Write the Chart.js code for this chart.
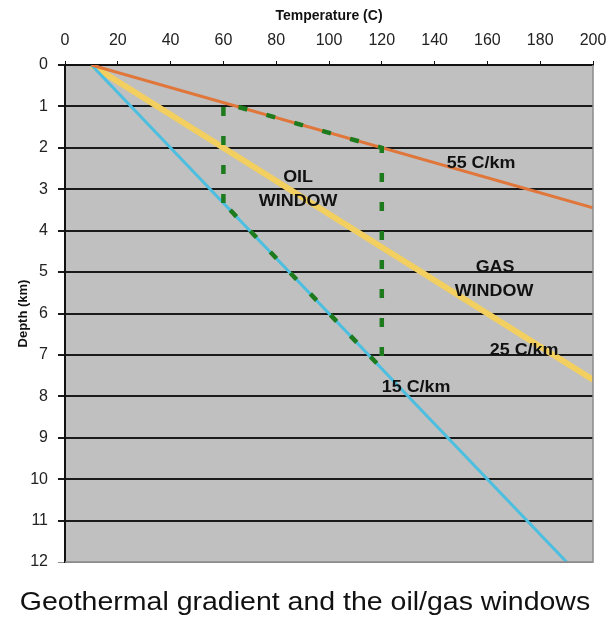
<!DOCTYPE html>
<html>
<head>
<meta charset="utf-8">
<script src="https://cdn.jsdelivr.net/npm/chart.js@4.4.1/dist/chart.umd.min.js"></script>
<style>
  html, body { margin: 0; padding: 0; background: #fff; }
  #wrap { width: 610px; height: 621px; }
</style>
</head>
<body>
<div id="wrap"><canvas id="geoChart"></canvas></div>
<script>
// temperatures (C) and depths (km)
const hotTemps = [10, 200];
const hotDepths = [0, 3.45];
const midTemps = [10, 200];
const midDepths = [0, 7.6];
const coldTemps = [10, 190];
const coldDepths = [0, 12];
// outline of the oil window
const windowTemps = [60, 60, 120, 120, 60];
const windowDepths = [3.33, 0.91, 2.0, 7.33, 3.33];

const xTicks = [0, 20, 40, 60, 80, 100, 120, 140, 160, 180, 200];
const yTicks = [0, 1, 2, 3, 4, 5, 6, 7, 8, 9, 10, 11, 12];

// text placed on the chart (temp, depth)
const noteTexts = ['55 C/km', 'OIL', 'WINDOW', 'GAS', 'WINDOW', '25 C/km', '15 C/km'];
const noteTemps = [157.6, 88.3, 88.3, 162.9, 162.5, 173.9, 133];
const noteDepths = [2.39, 2.73, 3.31, 4.9, 5.46, 6.9, 7.8];

const chartTitle = 'Geothermal gradient and the oil/gas windows';

const toPoints = (xs, ys) => xs.map((x, i) => ({ x: x, y: ys[i] }));

const FONT = 'Arial, "Liberation Sans", sans-serif';

const backdrop = {
    id: 'backdrop',
    beforeDraw(chart) {
        const { ctx, chartArea: a } = chart;
        ctx.save();
        ctx.fillStyle = '#c0c0c0';
        ctx.fillRect(a.left, a.top, a.right - a.left, a.bottom - a.top);
        ctx.restore();
    },
    afterDraw(chart) {
        const { ctx, chartArea: a } = chart;
        ctx.save();
        ctx.strokeStyle = '#8a8a8a';
        ctx.lineWidth = 1.5;
        ctx.beginPath();
        ctx.moveTo(a.right, a.top);
        ctx.lineTo(a.right, a.bottom);
        ctx.lineTo(a.left, a.bottom);
        ctx.stroke();

        // caption under the chart, a little wide like the original
        ctx.fillStyle = '#111';
        ctx.font = '25px ' + FONT;
        ctx.textAlign = 'center';
        ctx.textBaseline = 'middle';
        ctx.translate(chart.width / 2, 603);
        ctx.scale(1.14, 1);
        ctx.fillText(chartTitle, 0, 0);
        ctx.restore();
    }
};

const notes = {
    id: 'notes',
    afterDatasetsDraw(chart) {
        const { ctx, scales } = chart;
        ctx.save();
        ctx.font = 'bold 16px ' + FONT;
        ctx.fillStyle = '#111';
        ctx.textAlign = 'center';
        ctx.textBaseline = 'middle';
        noteTexts.forEach((t, i) => {
            const px = scales.x.getPixelForValue(noteTemps[i]);
            const py = scales.y.getPixelForValue(noteDepths[i]);
            ctx.save();
            ctx.translate(px, py);
            ctx.scale(1.12, 1);
            ctx.fillText(t, 0, 0);
            ctx.restore();
        });
        ctx.restore();
    }
};

const ctx = document.getElementById('geoChart').getContext('2d');

new Chart(ctx, {
    type: 'scatter',
    data: {
        datasets: [
            {
                label: 'Oil window',
                data: toPoints(windowTemps, windowDepths),
                showLine: true,
                borderColor: '#1d7a1d',
                borderWidth: 4.5,
                borderDash: [9, 20],
                pointRadius: 0,
                order: 0
            },
            {
                label: '55 C/km',
                data: toPoints(hotTemps, hotDepths),
                showLine: true,
                borderColor: '#e0763a',
                borderWidth: 3,
                pointRadius: 0,
                order: 1
            },
            {
                label: '15 C/km',
                data: toPoints(coldTemps, coldDepths),
                showLine: true,
                borderColor: '#4cbfe0',
                borderWidth: 3,
                pointRadius: 0,
                order: 2
            },
            {
                label: '25 C/km',
                data: toPoints(midTemps, midDepths),
                showLine: true,
                borderColor: '#f2cf5e',
                borderWidth: 6,
                pointRadius: 0,
                order: 3
            }
        ]
    },
    options: {
        responsive: true,
        maintainAspectRatio: false,
        animation: false,
        layout: {
            padding: { left: 14, right: 17, top: 6, bottom: 59 }
        },
        scales: {
            x: {
                type: 'linear',
                position: 'top',
                min: 0,
                max: 200,
                afterBuildTicks: axis => { axis.ticks = xTicks.map(v => ({ value: v })); },
                afterFit: axis => {
                    axis.height = 59;
                    axis.paddingLeft = 0;
                    axis.paddingRight = 0;
                },
                ticks: {
                    color: '#222',
                    font: { size: 16, family: FONT },
                    padding: 11
                },
                grid: {
                    drawOnChartArea: false,
                    drawTicks: true,
                    tickLength: 4,
                    color: '#111'
                },
                border: { color: '#111', width: 2 },
                title: {
                    display: true,
                    text: 'Temperature (C)',
                    color: '#111',
                    font: { size: 14, weight: 'bold', family: FONT },
                    padding: { top: 2, bottom: 0 }
                }
            },
            y: {
                type: 'linear',
                reverse: true,
                min: 0,
                max: 12,
                afterBuildTicks: axis => { axis.ticks = yTicks.map(v => ({ value: v })); },
                afterFit: axis => { axis.width = 51; },
                ticks: {
                    color: '#222',
                    font: { size: 16, family: FONT },
                    padding: 10
                },
                grid: {
                    color: c => (c.tick && c.tick.value === 12 ? '#8a8a8a' : '#1a1a1a'),
                    lineWidth: c => (c.tick && c.tick.value === 12 ? 1 : 2),
                    tickLength: 7
                },
                border: { color: '#111', width: 2 },
                title: {
                    display: true,
                    text: 'Depth (km)',
                    color: '#111',
                    font: { size: 13, weight: 'bold', family: FONT },
                    padding: { top: 2, bottom: 0 }
                }
            }
        },
        plugins: {
            legend: { display: false },
            tooltip: { enabled: false },
            title: { display: false }
        }
    },
    plugins: [backdrop, notes]
});
</script>
</body>
</html>
